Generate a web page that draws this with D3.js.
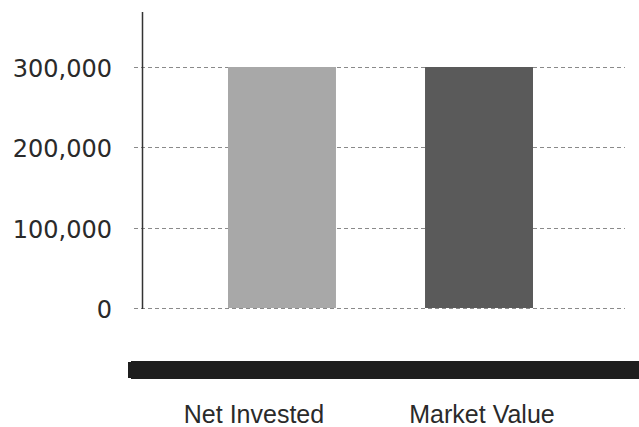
<!DOCTYPE html>
<html>
<head>
<meta charset="utf-8">
<script src="https://cdn.jsdelivr.net/npm/d3@7"></script>
<style>
	html, body { margin: 0; padding: 0; background: #fff; }
	svg { display: block; }
</style>
</head>
<body>
<svg id="chart"></svg>
<script>
// chart data
var categories = ['Net Invested', 'Market Value'];
var values = [300000, 300000];
var barColors = ['#a8a8a8', '#5a5a5a'];
var yTicks = [0, 100000, 200000, 300000];

var width = 639, height = 427;
var margin = { top: 12, right: 14, bottom: 119, left: 142 };

var svg = d3.select('#chart').attr('width', width).attr('height', height);

var y = d3.scaleLinear()
	.domain([0, 300000])
	.range([height - margin.bottom, 67]);

// bar slots
var x = d3.scaleBand()
	.domain(categories)
	.range([margin.left, 619])
	.paddingInner(0.452)
	.paddingOuter(0.4365);

// dashed grid lines, they also poke out left of the axis as ticks
svg.append('g')
	.selectAll('line')
	.data(yTicks)
	.join('line')
	.attr('x1', margin.left - 8)
	.attr('x2', 625)
	.attr('y1', function (d) { return Math.round(y(d)) + 0.5; })
	.attr('y2', function (d) { return Math.round(y(d)) + 0.5; })
	.attr('stroke', '#8a8a8a')
	.attr('stroke-width', 1.2)
	.attr('stroke-dasharray', '4,3');

// bars
svg.append('g')
	.selectAll('rect')
	.data(values)
	.join('rect')
	.attr('x', function (d, i) { return x(categories[i]); })
	.attr('width', x.bandwidth())
	.attr('y', function (d) { return y(d); })
	.attr('height', function (d) { return y(0) - y(d); })
	.attr('fill', function (d, i) { return barColors[i]; });

// y axis
var yAxis = d3.axisLeft(y)
	.tickValues(yTicks)
	.tickSize(0)
	.tickPadding(30)
	.tickFormat(d3.format(','));

var ya = svg.append('g')
	.attr('transform', 'translate(' + margin.left + ',0)')
	.call(yAxis);
ya.select('.domain').remove();
ya.selectAll('text')
	.attr('font-family', 'DejaVu Sans, Verdana, sans-serif')
	.attr('font-size', 24)
	.attr('dy', '0.4em')
	.attr('fill', '#2a2a2a');

svg.append('line')
	.attr('x1', margin.left + 0.5)
	.attr('x2', margin.left + 0.5)
	.attr('y1', margin.top)
	.attr('y2', y(0) + 1)
	.attr('stroke', '#333')
	.attr('stroke-width', 1.5);

// dark band below the plot
svg.append('rect')
	.attr('x', 131)
	.attr('y', 361)
	.attr('width', width - 131)
	.attr('height', 18)
	.attr('fill', '#1e1e1e');
svg.append('rect')
	.attr('x', 128)
	.attr('y', 362)
	.attr('width', 7)
	.attr('height', 16)
	.attr('fill', '#1e1e1e');

// category labels
var labelX = [254, 482];
svg.append('g')
	.selectAll('text')
	.data(categories)
	.join('text')
	.attr('x', function (d, i) { return labelX[i]; })
	.attr('y', 423)
	.attr('text-anchor', 'middle')
	.attr('font-family', 'Liberation Sans, Arial, sans-serif')
	.attr('font-size', 25)
	.attr('fill', '#2a2a2a')
	.text(function (d) { return d; });
</script>
</body>
</html>
